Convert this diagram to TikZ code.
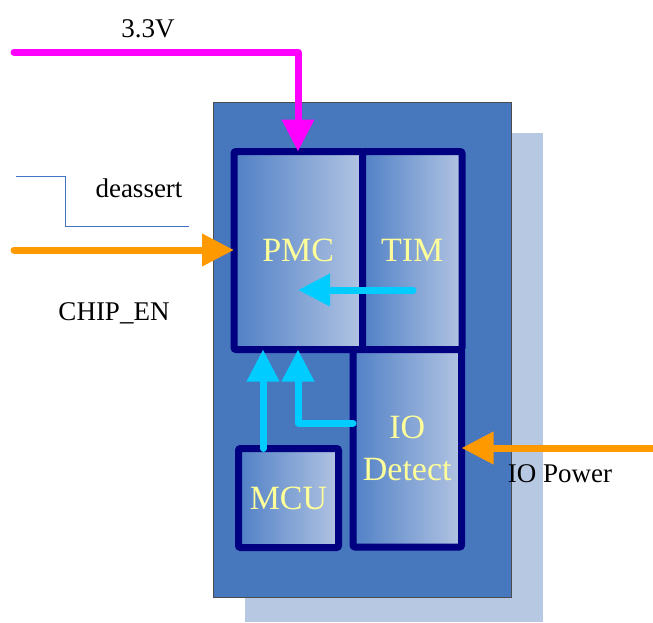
\documentclass[tikz,border=0pt]{standalone}
\usepackage{fontspec}
\setmainfont{Liberation Serif}
\usetikzlibrary{arrows.meta}
\definecolor{shadowblue}{RGB}{183,200,226}
\definecolor{mainblue}{RGB}{71,120,190}
\definecolor{navyb}{RGB}{0,0,128}
\definecolor{gradL}{RGB}{80,128,198}
\definecolor{gradR}{RGB}{178,196,226}
\definecolor{txtyellow}{RGB}{255,255,153}
\definecolor{cyanarrow}{RGB}{0,204,255}
\definecolor{magarrow}{RGB}{255,0,255}
\definecolor{orgarrow}{RGB}{255,153,0}
\definecolor{wave}{RGB}{68,114,196}
\tikzset{
  blk/.style={draw=navyb, line width=7pt, left color=gradL, right color=gradR,
    rounded corners=2pt, outer sep=0pt, inner sep=0pt, text=txtyellow,
    font=\fontsize{34}{42}\selectfont, align=center},
  sig/.style={line width=7pt, line cap=round, line join=round,
    -{Triangle[length=32pt,width=31pt]}},
  lbl/.style={font=\fontsize{27}{32}\selectfont, text=black, anchor=base, inner sep=0pt}
}
\begin{document}
\begin{tikzpicture}[x=1pt,y=-1pt]
\useasboundingbox (0,0) rectangle (653,622);
% shadow and chip body
\fill[shadowblue] (245,133) rectangle (543,622);
\draw[fill=mainblue, draw=black!70, line width=1pt] (213,102) rectangle (511,597);
% blocks
\node[blk, minimum width=128.5pt, minimum height=198pt] (pmc) at (298.25,250.5) {PMC};
\node[blk, minimum width=99.5pt, minimum height=198pt] (tim) at (412.25,250.5) {TIM};
\node[blk, minimum width=108.5pt, minimum height=197.5pt] (io) at (407.25,448.25) {IO\\Detect};
\node[blk, minimum width=100pt, minimum height=99pt] (mcu) at (288.5,498) {MCU};
% coordinates
\coordinate (m0) at (14,52);
\coordinate (xm) at (298,0);
\coordinate (c0) at (14,250);
\coordinate (p0) at (653,448);
\coordinate (t0) at (413,290);
\coordinate (t1) at (298,290);
\coordinate (xa) at (263,0);
\coordinate (ya) at (0,423);
% signals
\draw[sig, magarrow] (m0) -| (pmc.north -| xm);
\draw[sig, orgarrow] (c0) -- (pmc.west |- c0);
\draw[sig, orgarrow] (p0) -- (io.east |- p0);
\draw[sig, cyanarrow] (t0) -- (t1);
\draw[sig, cyanarrow] (mcu.north -| xa) -- (pmc.south -| xa);
\draw[sig, cyanarrow] (io.west |- ya) -| (pmc.south -| xm);
% deassert waveform
\draw[wave, line width=1pt] (16,176) -- (65,176) -- (65,226) -- (189,226);
% labels
\node[lbl] (l33) at (148,37) {3.3V};
\node[lbl] (lde) at (139,197) {deassert};
\node[lbl] (lch) at (114,320) {CHIP\_EN};
\node[lbl] (lio) at (560,482) {IO Power};
\end{tikzpicture}
\end{document}
